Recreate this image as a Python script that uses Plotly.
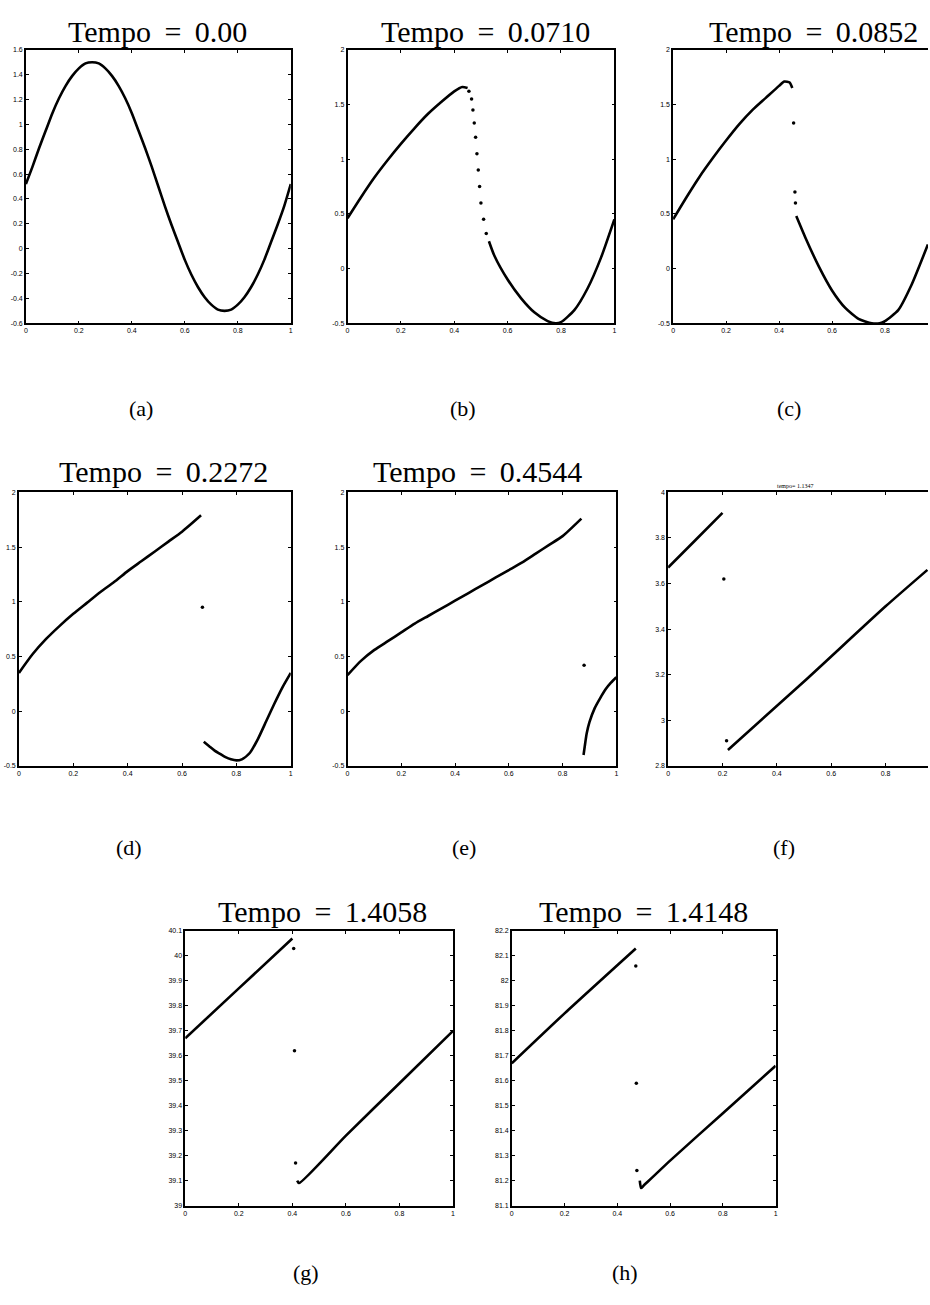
import plotly.graph_objects as go

# ---------------- data ----------------
x_ticks = [0, 0.2, 0.4, 0.6, 0.8, 1]
x_ticktext = ["0", "0.2", "0.4", "0.6", "0.8", "1"]

a_y_ticks = [1.6, 1.4, 1.2, 1, 0.8, 0.6, 0.4, 0.2, 0, -0.2, -0.4, -0.6]
a_y_ticktext = ["1.6", "1.4", "1.2", "1", "0.8", "0.6", "0.4", "0.2", "0", "-0.2", "-0.4", "-0.6"]
be_y_ticks = [2, 1.5, 1, 0.5, 0, -0.5]
be_y_ticktext = ["2", "1.5", "1", "0.5", "0", "-0.5"]
f_y_ticks = [4, 3.8, 3.6, 3.4, 3.2, 3, 2.8]
f_y_ticktext = ["4", "3.8", "3.6", "3.4", "3.2", "3", "2.8"]
g_y_ticks = [40.1, 40, 39.9, 39.8, 39.7, 39.6, 39.5, 39.4, 39.3, 39.2, 39.1, 39]
g_y_ticktext = ["40.1", "40", "39.9", "39.8", "39.7", "39.6", "39.5", "39.4", "39.3", "39.2", "39.1", "39"]
h_y_ticks = [82.2, 82.1, 82, 81.9, 81.8, 81.7, 81.6, 81.5, 81.4, 81.3, 81.2, 81.1]
h_y_ticktext = ["82.2", "82.1", "82", "81.9", "81.8", "81.7", "81.6", "81.5", "81.4", "81.3", "81.2", "81.1"]

titles = ["Tempo = 0.00", "Tempo = 0.0710", "Tempo = 0.0852", "Tempo = 0.2272",
          "Tempo = 0.4544", "tempo= 1.1347", "Tempo = 1.4058", "Tempo = 1.4148"]
sub_labels = ["(a)", "(b)", "(c)", "(d)", "(e)", "(f)", "(g)", "(h)"]

# (a)
a_x = [0, 0.025, 0.05, 0.075, 0.1, 0.125, 0.15, 0.175, 0.2, 0.225, 0.25, 0.275, 0.3, 0.325,
       0.35, 0.375, 0.4, 0.425, 0.45, 0.475, 0.5, 0.525, 0.55, 0.575, 0.6, 0.625, 0.65, 0.675,
       0.7, 0.725, 0.75, 0.775, 0.8, 0.825, 0.85, 0.875, 0.9, 0.925, 0.95, 0.975, 1.0]
a_y = [0.52, 0.66, 0.81, 0.95, 1.09, 1.21, 1.31, 1.39, 1.45, 1.49, 1.5, 1.49, 1.45, 1.39,
       1.31, 1.21, 1.09, 0.95, 0.81, 0.66, 0.5, 0.34, 0.19, 0.05, -0.09, -0.21, -0.31, -0.39,
       -0.45, -0.49, -0.5, -0.49, -0.45, -0.39, -0.31, -0.21, -0.09, 0.05, 0.19, 0.34, 0.52]

# (b)
b1_x = [0, 0.05, 0.1, 0.15, 0.2, 0.25, 0.3, 0.35, 0.4, 0.43, 0.45]
b1_y = [0.46, 0.65, 0.83, 0.99, 1.14, 1.28, 1.41, 1.52, 1.62, 1.66, 1.65]
bd_x = [0.455, 0.465, 0.47, 0.475, 0.48, 0.485, 0.49, 0.495, 0.5, 0.51, 0.52]
bd_y = [1.62, 1.55, 1.45, 1.33, 1.2, 1.05, 0.9, 0.75, 0.6, 0.45, 0.32]
b2_x = [0.53, 0.55, 0.6, 0.65, 0.7, 0.75, 0.78, 0.8, 0.85, 0.9, 0.95, 1.0]
b2_y = [0.25, 0.12, -0.1, -0.27, -0.4, -0.48, -0.5, -0.49, -0.38, -0.18, 0.1, 0.45]

# (c)
c1_x = [0, 0.05, 0.1, 0.15, 0.2, 0.25, 0.3, 0.35, 0.4, 0.42, 0.44, 0.45]
c1_y = [0.45, 0.65, 0.84, 1.01, 1.17, 1.32, 1.45, 1.56, 1.67, 1.71, 1.70, 1.65]
cd_x = [0.455, 0.46, 0.462]
cd_y = [1.33, 0.7, 0.6]
c2_x = [0.465, 0.5, 0.55, 0.6, 0.65, 0.7, 0.75, 0.78, 0.8, 0.85, 0.9, 0.962]
c2_y = [0.48, 0.28, 0.02, -0.2, -0.36, -0.46, -0.5, -0.5, -0.48, -0.38, -0.15, 0.22]

# (d)
d1_x = [0, 0.05, 0.1, 0.15, 0.2, 0.25, 0.3, 0.35, 0.4, 0.45, 0.5, 0.55, 0.6, 0.67]
d1_y = [0.35, 0.52, 0.66, 0.78, 0.89, 0.99, 1.09, 1.18, 1.28, 1.37, 1.46, 1.55, 1.64, 1.79]
dd_x = [0.675]
dd_y = [0.95]
d2_x = [0.68, 0.7, 0.72, 0.74, 0.76, 0.78, 0.8, 0.82, 0.85, 0.88, 0.91, 0.94, 0.97, 1.0]
d2_y = [-0.28, -0.32, -0.36, -0.39, -0.42, -0.44, -0.45, -0.44, -0.38, -0.25, -0.09, 0.07, 0.22, 0.35]

# (e)
e1_x = [0, 0.05, 0.1, 0.15, 0.2, 0.25, 0.3, 0.35, 0.4, 0.45, 0.5, 0.55, 0.6, 0.65, 0.7, 0.75, 0.8, 0.87]
e1_y = [0.33, 0.46, 0.56, 0.64, 0.72, 0.8, 0.87, 0.94, 1.01, 1.08, 1.15, 1.22, 1.29, 1.36, 1.44, 1.52, 1.6, 1.76]
ed_x = [0.88]
ed_y = [0.42]
e2_x = [0.878, 0.882, 0.886, 0.89, 0.9, 0.92, 0.94, 0.96, 0.98, 1.0]
e2_y = [-0.4, -0.33, -0.26, -0.2, -0.1, 0.03, 0.12, 0.2, 0.26, 0.31]

# (f)
f1_x = [0, 0.1, 0.2]
f1_y = [3.67, 3.79, 3.91]
fd_x = [0.205, 0.215]
fd_y = [3.62, 2.91]
f2_x = [0.22, 0.5, 0.8, 0.954]
f2_y = [2.87, 3.17, 3.5, 3.66]

# (g)
g1_x = [0, 0.2, 0.4]
g1_y = [39.67, 39.87, 40.07]
gd_x = [0.405, 0.408, 0.412]
gd_y = [40.03, 39.62, 39.17]
g2_x = [0.418, 0.425, 0.6, 0.8, 1.0]
g2_y = [39.1, 39.09, 39.28, 39.49, 39.70]

# (h)
h1_x = [0, 0.2, 0.47]
h1_y = [81.67, 81.87, 82.13]
hd_x = [0.47, 0.472, 0.474]
hd_y = [82.06, 81.59, 81.24]
h2_x = [0.485, 0.49, 0.5, 0.6, 0.8, 1.0]
h2_y = [81.2, 81.17, 81.18, 81.28, 81.47, 81.66]

# ---------------- layout geometry (pixels) ----------------
W, H = 930, 1305
boxes = [  # left, right, top, bottom (pixels)
    (24, 290, 46, 321), (347, 615, 46, 321), (674, 940, 46, 321),
    (17, 290, 491, 766), (347, 617, 491, 766), (669, 942, 491, 766),
    (184, 453, 932, 1208), (512, 777, 932, 1208),
]
yinfo = [
    (a_y_ticks, a_y_ticktext, [-0.6, 1.6]),
    (be_y_ticks, be_y_ticktext, [-0.5, 2]),
    (be_y_ticks, be_y_ticktext, [-0.5, 2]),
    (be_y_ticks, be_y_ticktext, [-0.5, 2]),
    (be_y_ticks, be_y_ticktext, [-0.5, 2]),
    (f_y_ticks, f_y_ticktext, [2.8, 4]),
    (g_y_ticks, g_y_ticktext, [39.0, 40.1]),
    (h_y_ticks, h_y_ticktext, [81.1, 82.2]),
]
title_pos = [(156, 28), (486, 28), (815, 28), (162, 470), (478, 470), (796, 485), (322, 912), (644, 912)]
label_pos = [(140, 407), (463, 407), (790, 407), (128, 848), (464, 848), (785, 848), (305, 1275), (626, 1275)]

series = [
    [(a_x, a_y, "l")],
    [(b1_x, b1_y, "l"), (bd_x, bd_y, "m"), (b2_x, b2_y, "l")],
    [(c1_x, c1_y, "l"), (cd_x, cd_y, "m"), (c2_x, c2_y, "l")],
    [(d1_x, d1_y, "l"), (dd_x, dd_y, "m"), (d2_x, d2_y, "l")],
    [(e1_x, e1_y, "l"), (ed_x, ed_y, "m"), (e2_x, e2_y, "l")],
    [(f1_x, f1_y, "l"), (fd_x, fd_y, "m"), (f2_x, f2_y, "l")],
    [(g1_x, g1_y, "l"), (gd_x, gd_y, "m"), (g2_x, g2_y, "l")],
    [(h1_x, h1_y, "l"), (hd_x, hd_y, "m"), (h2_x, h2_y, "l")],
]

NB = "\u00a0"

def tex_title(s):
    # slightly widened spaces around "=" like TeX math spacing
    return s.replace(" = ", NB + "\u2009=\u2009" + NB)

fig = go.Figure()
layout = dict(
    width=W, height=H, margin=dict(l=0, r=0, t=0, b=0),
    paper_bgcolor="white", plot_bgcolor="white", showlegend=False,
)
annotations = []
tickfont = dict(family="Liberation Sans", size=7, color="black")

for i, (l, r, t, b) in enumerate(boxes):
    k = i + 1
    xs = "" if k == 1 else str(k)
    clip = r > W
    vis_r = min(r, W)
    xmax = (vis_r - l) / (r - l)
    layout["xaxis" + xs] = dict(
        domain=[l / W, vis_r / W], range=[0, xmax], anchor="y" + xs,
        tickvals=x_ticks, ticktext=x_ticktext, ticks="inside", ticklen=3,
        tickcolor="black", showline=True, linecolor="black", linewidth=1.5,
        mirror="ticks", showgrid=False, zeroline=False, tickfont=tickfont,
        fixedrange=True,
    )
    yt, ytt, yr = yinfo[i]
    layout["yaxis" + xs] = dict(
        domain=[1 - b / H, 1 - t / H], range=yr, anchor="x" + xs,
        tickvals=yt, ticktext=ytt, ticks="inside", ticklen=3,
        tickcolor="black", showline=True, linecolor="black", linewidth=1.5,
        mirror=(False if clip else "ticks"), showgrid=False, zeroline=False,
        tickfont=tickfont, fixedrange=True,
    )
    for (sx, sy, kind) in series[i]:
        if kind == "l":
            ln = dict(color="black", width=2.6, shape="spline", smoothing=0.6)
            fig.add_trace(go.Scatter(x=sx, y=sy, mode="lines", line=ln,
                                     xaxis="x" + xs, yaxis="y" + xs))
        else:
            fig.add_trace(go.Scatter(x=sx, y=sy, mode="markers",
                                     marker=dict(color="black", size=3.5),
                                     xaxis="x" + xs, yaxis="y" + xs))
    tx, ty = title_pos[i]
    small = (i == 5)
    annotations.append(dict(
        text=(titles[i] if small else tex_title(titles[i])),
        x=tx / W, y=1 - ty / H, xref="paper", yref="paper",
        showarrow=False, xanchor="center", yanchor="middle",
        font=dict(family="Liberation Serif", size=(6 if small else 30), color="black"),
    ))
    lx, ly = label_pos[i]
    annotations.append(dict(
        text=sub_labels[i], x=lx / W, y=1 - ly / H, xref="paper", yref="paper",
        showarrow=False, xanchor="center", yanchor="middle",
        font=dict(family="Liberation Serif", size=22, color="black"),
    ))

layout["annotations"] = annotations
fig.update_layout(**layout)
fig.write_html("out.html")
